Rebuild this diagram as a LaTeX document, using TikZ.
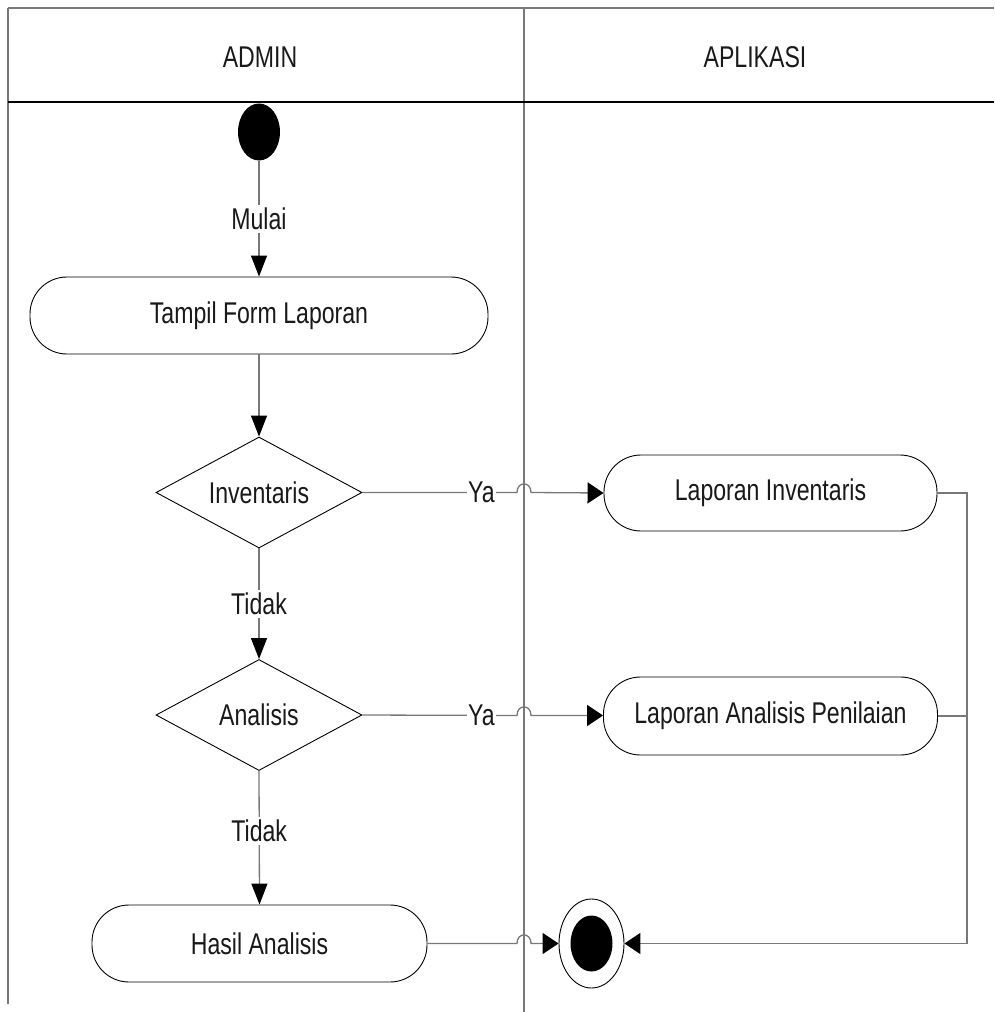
\documentclass[tikz,border=0pt]{standalone}
\usepackage{fontspec}
\setmainfont{Liberation Sans}[FakeStretch=0.77]
\usetikzlibrary{shapes.geometric,arrows.meta}

\definecolor{wire}{RGB}{120,120,120}
\definecolor{ink}{RGB}{25,25,25}

\tikzset{
  every node/.style={font=\fontsize{30}{35}\selectfont, text=ink},
  lane/.style={draw=wire, line width=1.3pt},
  sep/.style={draw=black, line width=1.2pt},
  activity/.style={draw=black, line width=0.9pt, rounded corners=37pt,
    inner sep=0pt, fill=white},
  decision/.style={diamond, draw=black, line width=0.9pt, inner sep=0pt,
    aspect=1.86, minimum width=206pt, minimum height=111pt, fill=white},
  conn/.style={draw=wire, line width=1.3pt},
  vtip/.style={-{Triangle[length=21pt,width=16pt,black]}},
  htip/.style={-{Triangle[length=16pt,width=21pt,black]}},
  guard/.style={fill=white, inner sep=3pt},
}

\begin{document}
\begin{tikzpicture}[x=1pt,y=-1pt]
  \useasboundingbox (0,0) rectangle (994,1012);

  % swimlane frame
  \draw[lane] (8,8) -- (994,8);
  \draw[lane] (8,8) -- (8,1004);
  \draw[lane] (524,8) -- (524,1012);
  \draw[sep] (8,102) -- (994,102);
  \node (hadmin) at (260,57) {ADMIN};
  \node (happ) at (755,57) {APLIKASI};

  % nodes
  \node[ellipse, fill=black, minimum width=42pt, minimum height=57pt, inner sep=0pt] (start) at (259,132) {};
  \node[activity, minimum width=458pt, minimum height=77pt] (tampil) at (259,315.5) {Tampil Form Laporan};
  \node[decision] (inv) at (259,492.5) {Inventaris};
  \node[decision] (ana) at (259,715) {Analisis};
  \node[activity, minimum width=335pt, minimum height=77pt] (hasil) at (259.5,943.5) {Hasil Analisis};
  \node[activity, minimum width=333pt, minimum height=76pt] (linv) at (770.5,493) {Laporan Inventaris};
  \node[activity, minimum width=334pt, minimum height=78pt] (lana) at (770.5,716) {Laporan Analisis Penilaian};
  \node[ellipse, draw=black, line width=0.9pt, fill=white, minimum width=65pt, minimum height=89pt, inner sep=0pt] (stop) at (591.5,943.5) {};
  \node[ellipse, fill=black, minimum width=42pt, minimum height=56pt, inner sep=0pt] (stopdot) at (stop.center) {};
  \coordinate (bus) at (967,716);

  % control flow
  \draw[conn, vtip] (start.south) -- node[guard] {Mulai} (tampil.north);
  \draw[conn, vtip] (tampil.south) -- (inv.north);
  \draw[conn, vtip] (inv.south) -- node[guard] {Tidak} (ana.north);
  \draw[conn, vtip] (ana.south) -- node[guard, pos=0.45] {Tidak} (hasil.north);

  \draw[conn, htip] (inv.east) -- node[guard, pos=0.77, inner xsep=1pt] {Ya} (517,492.5)
    .. controls (517,481) and (531,481) .. (531,492.5) -- (linv.west);
  \draw[conn, htip] (ana.east) -- node[guard, pos=0.77, inner xsep=1pt] {Ya} (517,715.5)
    .. controls (517,704) and (531,704) .. (531,715.5) -- (lana.west |- 0,715.5);
  \draw[conn, htip] (hasil.east) -- (517,943.5)
    .. controls (517,932) and (531,932) .. (531,943.5) -- (stop.west);

  \draw[conn] (linv.east) -| (bus);
  \draw[conn] (lana.east) -- (bus);
  \draw[conn, htip] (bus) |- (stop.east);
\end{tikzpicture}
\end{document}
